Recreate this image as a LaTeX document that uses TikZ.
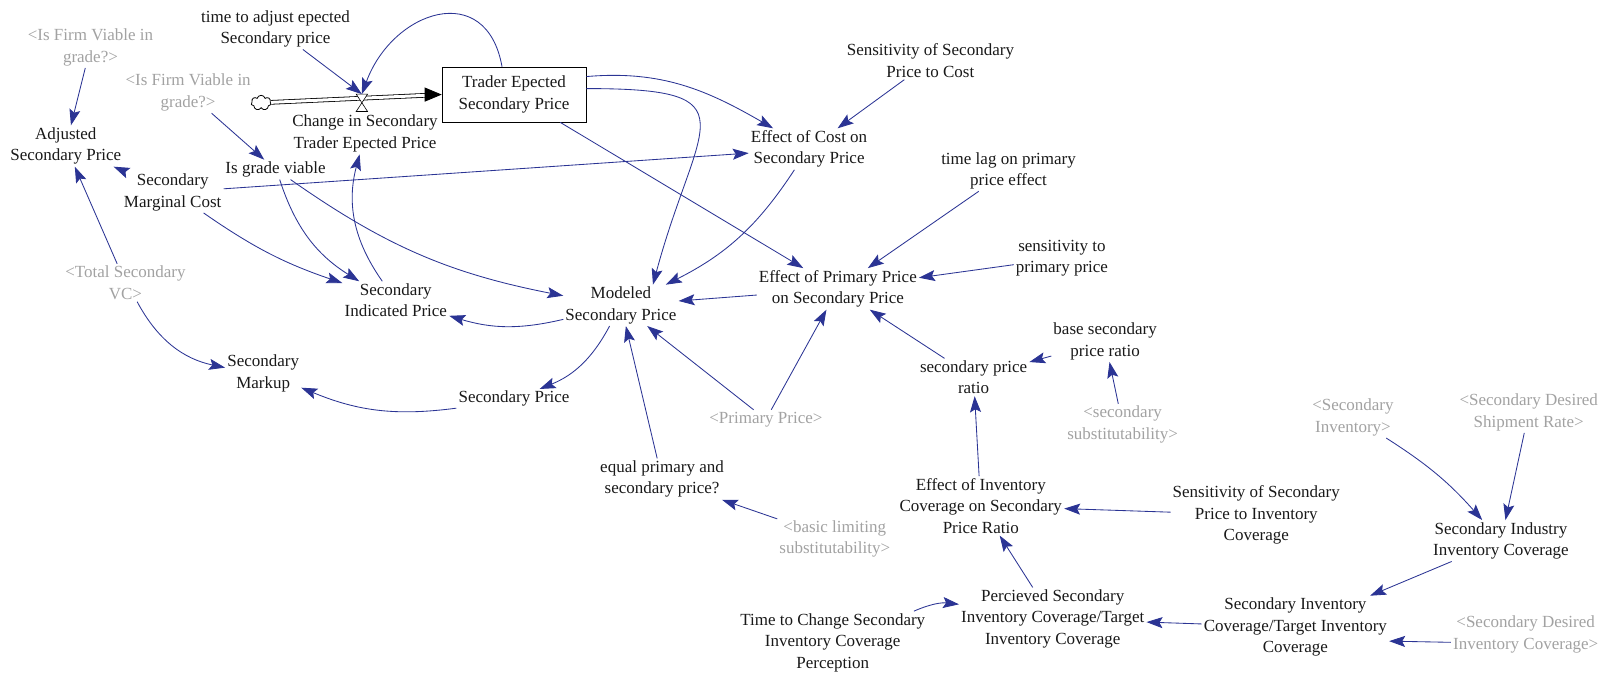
\documentclass[tikz,border=0pt]{standalone}
\usepackage{fontspec}
\setmainfont{Liberation Serif}
\usetikzlibrary{arrows.meta, shapes.symbols, positioning}
\definecolor{linkblue}{HTML}{2B3494}
\definecolor{ghostgray}{HTML}{A2A2A2}

\begin{document}
\begin{tikzpicture}[
    x=1.028pt, y=1.028pt,
    var/.style={align=center, inner sep=2pt, font=\fontsize{17}{21.5}\selectfont, text=black!90},
    ghost/.style={var, text=ghostgray},
    stock/.style={var, draw, semithick, minimum width=144pt, minimum height=55pt},
    link/.style={-{Stealth[length=16pt, width=11pt, inset=3pt]}, color=linkblue, line width=0.85pt},
    pipe/.style={thick, double distance=3pt}
]
\useasboundingbox (0,0) rectangle (1568,-656);

% Stock and flow
\node[stock] (trader) at (500,-92) {Trader Epected\\Secondary Price};
\node[draw, thick, shape=cloud, cloud puffs=7, minimum width=20pt, minimum height=15pt, inner sep=0pt] (cloud) at (254,-100) {};
\node[inner sep=0pt, minimum width=11pt, minimum height=17pt] (valve) at (352,-100) {};
\node[var] (chg) at (355,-130) {Change in Secondary\\Trader Epected Price};
\node[var] (tadj) at (268,-28) {time to adjust epected\\Secondary price};

% Left side
\node[ghost] (firmA) at (88,-46) {<Is Firm Viable in\\grade?>};
\node[ghost] (firmB) at (183,-90) {<Is Firm Viable in\\grade?>};
\node[var] (adj) at (64,-142) {Adjusted\\Secondary Price};
\node[var] (viable) at (268,-165) {Is grade viable};
\node[var] (mcost) at (168,-187) {Secondary\\Marginal Cost};
\node[ghost] (totvc) at (122,-275) {<Total Secondary\\VC>};
\node[var] (indic) at (385,-292) {Secondary\\Indicated Price};
\node[var] (markup) at (256,-363) {Secondary\\Markup};
\node[var] (secprice) at (500,-388) {Secondary Price};
\node[var] (modeled) at (604,-297) {Modeled\\Secondary Price};

% Price effects
\node[var] (senscost) at (905,-59) {Sensitivity of Secondary\\Price to Cost};
\node[var] (effcost) at (787,-145) {Effect of Cost on\\Secondary Price};
\node[var] (lag) at (981,-166) {time lag on primary\\price effect};
\node[var] (sensprim) at (1033,-251) {sensitivity to\\primary price};
\node[var] (effprim) at (815,-281) {Effect of Primary Price\\on Secondary Price};
\node[var] (baseratio) at (1075,-332) {base secondary\\price ratio};
\node[var] (ratio) at (947,-367) {secondary price\\ratio};
\node[ghost] (primprice) at (745,-408) {<Primary Price>};
\node[ghost] (subst) at (1092,-413) {<secondary\\substitutability>};
\node[var] (equal) at (644,-466) {equal primary and\\secondary price?};
\node[ghost] (basic) at (812,-524) {<basic limiting\\substitutability>};

% Inventory coverage
\node[var] (effinv) at (954,-492) {Effect of Inventory\\Coverage on Secondary\\Price Ratio};
\node[var] (sensinv) at (1222,-501) {Sensitivity of Secondary\\Price to Inventory\\Coverage};
\node[ghost] (secinv) at (1316,-406) {<Secondary\\Inventory>};
\node[ghost] (shiprate) at (1487,-401) {<Secondary Desired\\Shipment Rate>};
\node[var] (industry) at (1460,-526) {Secondary Industry\\Inventory Coverage};
\node[var] (timechg) at (810,-625) {Time to Change Secondary\\Inventory Coverage\\Perception};
\node[var] (perceived) at (1024,-602) {Percieved Secondary\\Inventory Coverage/Target\\Inventory Coverage};
\node[var] (covtarget) at (1260,-610) {Secondary Inventory\\Coverage/Target Inventory\\Coverage};
\node[ghost] (desinvcov) at (1484,-617) {<Secondary Desired\\Inventory Coverage>};

% Flow pipe and valve
\draw[pipe, shorten >=15pt] (cloud) -- (trader.west);
\draw[-{Triangle[length=17pt, width=14pt]}, thick] ([xshift=-17pt]trader.west) -- (trader.west);
\draw[fill=white, semithick] (valve.north west) -- (valve.north east) -- (valve.south west) -- (valve.south east) -- cycle;

% Links
\draw[link] (tadj) -- (valve.north);
\draw[link] ([xshift=-12pt]trader.north) to[out=100, in=70, looseness=1.6] (valve.north);
\draw[link] (firmA) -- (adj);
\draw[link] (firmB) -- (viable);
\draw[link] (mcost) -- (adj);
\draw[link] (totvc) -- (adj);
\draw[link] (totvc) to[bend right=25] (markup);
\draw[link] (mcost) to[bend right=8] (indic);
\draw[link] (viable) to[bend right=20] (indic);
\draw[link] (indic) to[bend left=25] (chg);
\draw[link] (viable) to[bend right=12] (modeled);
\draw[link] (mcost) -- (effcost);
\draw[link] ([yshift=18pt]trader.east) to[out=5, in=150] (effcost);
\draw[link] ([yshift=6pt]trader.east) to[out=0, in=75, looseness=2.1] ([xshift=32pt]modeled.north);
\draw[link] (trader) -- (effprim);
\draw[link] (senscost) -- (effcost);
\draw[link] (effcost) to[bend left=15] (modeled);
\draw[link] (lag) -- (effprim);
\draw[link] (sensprim) -- (effprim);
\draw[link] (effprim) -- (modeled);
\draw[link] (modeled) to[bend left=15] (indic);
\draw[link] (modeled) to[bend left=20] (secprice);
\draw[link] (secprice) to[bend left=15] (markup);
\draw[link] (primprice) -- (modeled);
\draw[link] (primprice) -- (effprim);
\draw[link] (equal) -- (modeled);
\draw[link] (basic) -- (equal);
\draw[link] (ratio) -- (effprim);
\draw[link] (baseratio) -- (ratio);
\draw[link] (subst) -- (baseratio);
\draw[link] (effinv) -- (ratio);
\draw[link] (sensinv) -- (effinv);
\draw[link] (perceived) -- (effinv);
\draw[link] (timechg) to[bend left=15] (perceived);
\draw[link] (covtarget) -- (perceived);
\draw[link] (industry) -- (covtarget);
\draw[link] (secinv) to[bend left=8] (industry);
\draw[link] (shiprate) -- (industry);
\draw[link] ([yshift=-8pt]desinvcov.west) -- ([yshift=-14pt]covtarget.east);

\end{tikzpicture}
\end{document}
